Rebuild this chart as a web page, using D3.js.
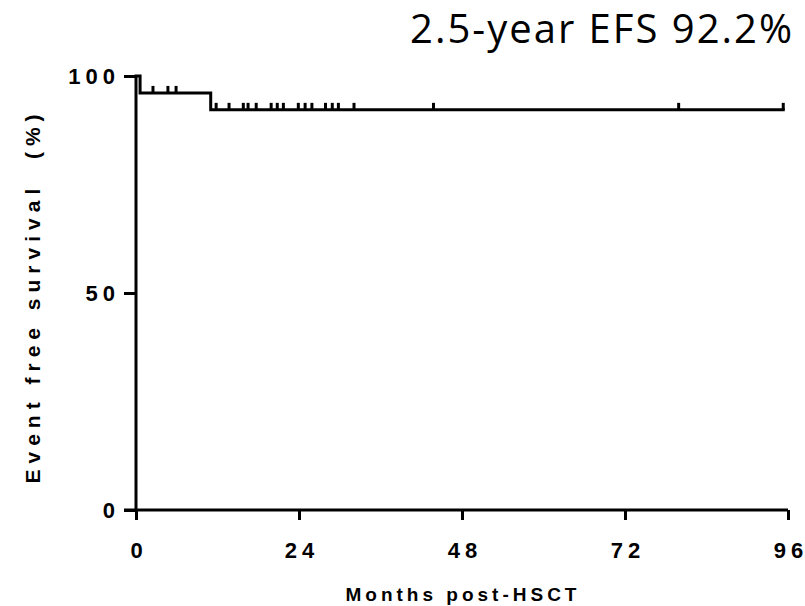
<!DOCTYPE html>
<html>
<head>
<meta charset="utf-8">
<script src="https://cdn.jsdelivr.net/npm/d3@7"></script>
<style>
body { margin: 0; background: #fff; }
svg { display: block; }
</style>
</head>
<body>
<div id="chart"></div>
<script>
// KM curve: drop times (months) and survival after each drop (%)
const stepMonths = [0, 0.6, 11];
const stepSurvival = [100, 96.1, 92.2];
// censored patients (months)
const censorMonths = [2.5, 4.7, 5.9, 11.8, 13.7, 15.8, 16.5, 17.7, 19.9, 20.8, 21.7,
  23.9, 24.9, 25.9, 27.9, 28.9, 29.8, 32.1, 43.8, 79.9, 95.3];
const lastFollowUp = 95.3;
const xTicks = [0, 24, 48, 72, 96];
const yTicks = [0, 50, 100];
const titleText = "2.5-year EFS 92.2%";

let width = 805, height = 606;
let svg = d3.select("#chart").append("svg").attr("width", width).attr("height", height);
let boldFont = "Liberation Sans, Arial, sans-serif";

let scaleX = d3.scaleLinear().domain([0, 96]).range([136, 788]);
let scaleY = d3.scaleLinear().domain([0, 100]).range([510, 76]);

function survAt(t) {
  let s = stepSurvival[0];
  stepMonths.forEach((m, i) => { if (m <= t) s = stepSurvival[i]; });
  return s;
}

// build step points
let pts = [];
stepMonths.forEach((m, i) => {
  if (i > 0) pts.push([m, stepSurvival[i - 1]]);
  pts.push([m, stepSurvival[i]]);
});
pts.push([lastFollowUp, stepSurvival[stepSurvival.length - 1]]);

let line = d3.line().x(d => scaleX(d[0])).y(d => scaleY(d[1]));

// spaced-out digits without trailing space
function spaceOut(sel, gap) {
  sel.each(function() {
    let t = d3.select(this);
    let chars = t.text().split("");
    t.text(null);
    chars.forEach((c, i) => t.append("tspan").attr("dx", i ? gap : 0).text(c));
  });
}

// axes
let axisX = d3.axisBottom(scaleX).tickValues(xTicks).tickSize(10).tickFormat(d3.format("d"));
let axisY = d3.axisLeft(scaleY).tickValues(yTicks).tickSize(12);

let gx = svg.append("g").attr("transform", "translate(0," + scaleY(0) + ")").call(axisX);
let gy = svg.append("g").attr("transform", "translate(" + scaleX(0) + ",0)").call(axisY);

[gx, gy].forEach(g => {
  g.select(".domain").attr("stroke", "#000").attr("stroke-width", 3);
  g.selectAll(".tick line").attr("stroke", "#000").attr("stroke-width", 3);
  g.selectAll(".tick text").attr("fill", "#000")
    .style("font-family", boldFont).style("font-weight", "bold")
    .style("font-size", "22px");
  spaceOut(g.selectAll(".tick text"), 5);
});
gx.select(".domain").attr("d", "M" + (scaleX(0) - 12) + ",0H" + scaleX(96));
gy.select(".domain").attr("d", "M0," + scaleY(0) + "V" + scaleY(100));
gx.selectAll(".tick text").attr("y", 48).attr("dy", 0);
gy.selectAll(".tick text").attr("x", -21).attr("dy", "0.35em");

// curve
svg.append("path").datum(pts).attr("d", line)
  .attr("fill", "none").attr("stroke", "#000").attr("stroke-width", 3)
  .attr("stroke-linejoin", "miter").attr("stroke-linecap", "square");

// censor marks
svg.selectAll("line.censor").data(censorMonths).enter().append("line")
  .attr("class", "censor")
  .attr("x1", d => scaleX(d)).attr("x2", d => scaleX(d))
  .attr("y1", d => scaleY(survAt(d)))
  .attr("y2", d => scaleY(survAt(d)) - 7)
  .attr("stroke", "#000").attr("stroke-width", 3);

// axis titles
svg.append("text").text("Months post-HSCT")
  .attr("x", 463).attr("y", 601).attr("text-anchor", "middle")
  .style("font-family", boldFont).style("font-weight", "bold")
  .style("font-size", "19px").style("letter-spacing", "4px");

svg.append("text").text("Event free survival  (%)")
  .attr("transform", "translate(40,296) rotate(-90)").attr("text-anchor", "middle")
  .style("font-family", boldFont).style("font-weight", "bold")
  .style("font-size", "21px").style("letter-spacing", "6px").style("white-space", "pre");

svg.append("text").text(titleText)
  .attr("x", 794).attr("y", 43).attr("text-anchor", "end")
  .style("font-family", "Open Sans, sans-serif").style("font-size", "40px")
  .style("letter-spacing", "2px").attr("fill", "#000");
</script>
</body>
</html>
